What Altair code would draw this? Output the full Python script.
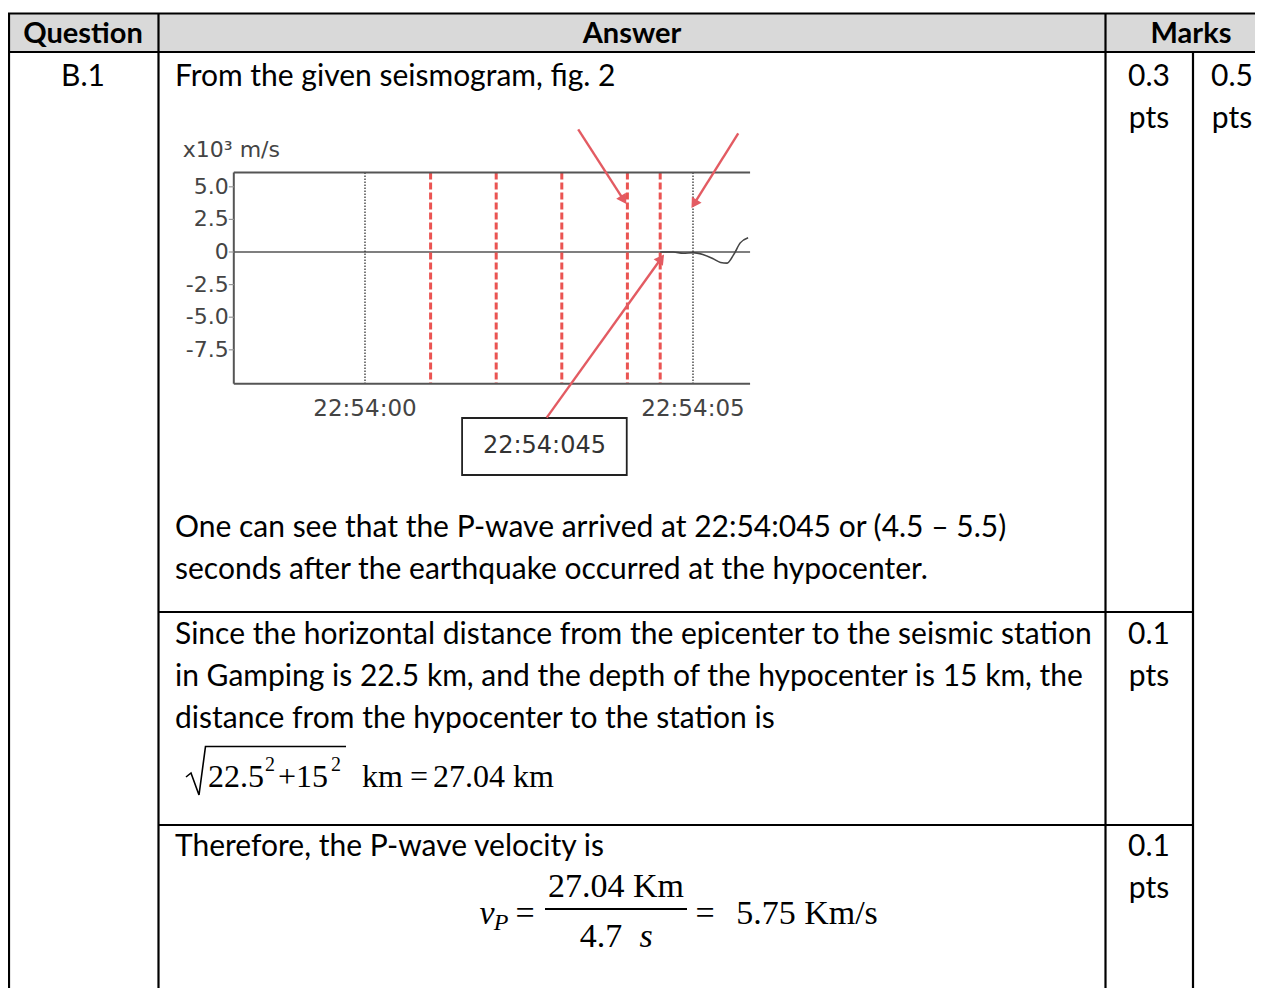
import math
import altair as alt
import pandas as pd

# ---------------- page geometry ----------------
W, H = 1247, 980          # whole chart (autosize none, padding 0), fits the 1263x1001 window with margins
ORIGIN_X, ORIGIN_Y = 8, 8  # page margin -> table coordinates are page pixels

# ---------------- table content ----------------
headers = ["Question", "Answer", "Marks"]
question_ids = ["B.1"]
answer_lines = [
    "From the given seismogram, fig. 2",
    "One can see that the P-wave arrived at 22:54:045 or (4.5 \u2013 5.5)",
    "seconds after the earthquake occurred at the hypocenter.",
    "Since the horizontal distance from the epicenter to the seismic station",
    "in Gamping is 22.5 km, and the depth of the hypocenter is 15 km, the",
    "distance from the hypocenter to the station is",
    "Therefore, the P-wave velocity is",
]
mark_values = ["0.3", "0.5", "0.1", "0.1"]
mark_unit = "pts"

formula1_parts = ["22.5", "2", "+15", "2", "km", "=", "27.04 km"]
formula2_roman = ["=", "27.04 Km", "4.7", "=", "5.75 Km/s"]
formula2_italic = ["v", "P", "s"]

# ---------------- seismogram content ----------------
y_ticks = [5.0, 2.5, 0.0, -2.5, -5.0, -7.5]
y_tick_labels = ["5.0", "2.5", "0", "-2.5", "-5.0", "-7.5"]
x_ticks = [0, 5]
x_tick_labels = ["22:54:00", "22:54:05"]
red_dashed_t = [1, 2, 3, 4, 4.5]
black_dotted_t = [0, 5]
wave_t = [4.5, 4.7, 4.85, 5.0, 5.15, 5.3, 5.42, 5.52, 5.62, 5.72, 5.84]
wave_v = [0.0, 0.0, -0.1, -0.05, -0.2, -0.5, -0.8, -0.85, -0.2, 0.7, 1.1]
arrow_start_t = [3.25, 5.69, 2.77]
arrow_start_v = [9.4, 9.1, -12.7]
arrow_end_t = [3.93, 5.03, 4.50]
arrow_end_v = [4.1, 3.8, -0.6]
annotation_label = "22:54:045"
unit_label = "x10\u00b3 m/s"

# ---------------- layout (page px) ----------------
X_LEFT, X_QA, X_AM, X_MM = 9, 158.5, 1105.5, 1193
Y_TOP, Y_HEAD, Y_ROW1, Y_ROW2 = 13.5, 52, 612, 825
FAR_RIGHT, FAR_BOTTOM = ORIGIN_X + W + 20, ORIGIN_Y + H + 20
TEXT_X = 175
LINE_H = 42
answer_baselines = [86, 537, 579, 644, 686, 728, 856]
header_pos = [(83, 43), (632, 43), (1191, 43)]
mark_pos = [(1149, 86), (1232, 86), (1149, 644), (1149, 856)]

# seismogram frame (time in s after 22:54:00, value in 10^3 m/s)
T_LEFT, T_RIGHT, V_TOP, V_BOT = -2.0, 5.87, 6.1, -10.1
T0_PX, PX_PER_S, V0_PY, PX_PER_V = 365, 65.6, 252, 13.04
BOX_T, BOX_V = (1.48, 3.99), (-12.73, -17.1)

BODY_FONT = "Lato"
BODY_SIZE = 30
SERIF = "Liberation Serif"
SEIS_FONT = "DejaVu Sans"
SEIS_GREY = "#444444"
ARROW_RED = "#e35b62"

# ---------------- scales ----------------
txs = alt.Scale(domain=[ORIGIN_X, ORIGIN_X + W], nice=False, zero=False)
tys = alt.Scale(domain=[ORIGIN_Y, ORIGIN_Y + H], nice=False, zero=False, reverse=True)
sxs = alt.Scale(domain=[(ORIGIN_X - T0_PX) / PX_PER_S, (ORIGIN_X + W - T0_PX) / PX_PER_S],
                nice=False, zero=False)
sys_ = alt.Scale(domain=[(V0_PY - ORIGIN_Y - H) / PX_PER_V, (V0_PY - ORIGIN_Y) / PX_PER_V],
                 nice=False, zero=False)


def TX(f="x"):
    return alt.X(f"{f}:Q", scale=txs, axis=None)


def TY(f="y"):
    return alt.Y(f"{f}:Q", scale=tys, axis=None)


def SX(f="t"):
    return alt.X(f"{f}:Q", scale=sxs, axis=None)


def SY(f="v"):
    return alt.Y(f"{f}:Q", scale=sys_, axis=None)


# ================= table layers =================
head_bg = alt.Chart(pd.DataFrame({"x": [ORIGIN_X], "x2": [FAR_RIGHT], "y": [Y_TOP], "y2": [Y_HEAD]})).mark_rect(
    color="#d9d9d9").encode(x=TX(), x2="x2:Q", y=TY(), y2="y2:Q")

lines_df = pd.DataFrame({
    "x":  [ORIGIN_X, ORIGIN_X, X_QA, X_QA, X_LEFT, X_QA, X_AM, X_MM],
    "x2": [FAR_RIGHT, FAR_RIGHT, X_MM, X_MM, X_LEFT, X_QA, X_AM, X_MM],
    "y":  [Y_TOP, Y_HEAD, Y_ROW1, Y_ROW2, Y_TOP, Y_TOP, Y_TOP, Y_HEAD],
    "y2": [Y_TOP, Y_HEAD, Y_ROW1, Y_ROW2, FAR_BOTTOM, FAR_BOTTOM, FAR_BOTTOM, FAR_BOTTOM],
})
table_lines = alt.Chart(lines_df).mark_rule(color="black", strokeWidth=2.2).encode(
    x=TX(), x2="x2:Q", y=TY(), y2="y2:Q")

head_df = pd.DataFrame({"text": headers, "x": [p[0] for p in header_pos], "y": [p[1] for p in header_pos]})
head_text = alt.Chart(head_df).mark_text(font=BODY_FONT, fontSize=29, fontWeight="bold", align="center",
                                         baseline="alphabetic", color="black").encode(
    x=TX(), y=TY(), text="text:N")

q_df = pd.DataFrame({"text": question_ids, "x": [83], "y": [86]})
q_text = alt.Chart(q_df).mark_text(font=BODY_FONT, fontSize=BODY_SIZE, align="center", baseline="alphabetic",
                                   color="black").encode(x=TX(), y=TY(), text="text:N")

ans_df = pd.DataFrame({"text": answer_lines, "x": [TEXT_X] * len(answer_lines), "y": answer_baselines})
ans_text = alt.Chart(ans_df).mark_text(font=BODY_FONT, fontSize=BODY_SIZE, align="left", baseline="alphabetic",
                                       color="black").encode(x=TX(), y=TY(), text="text:N")

mk_rows = []
for val, (mx, my) in zip(mark_values, mark_pos):
    mk_rows.append({"text": val, "x": mx, "y": my})
    mk_rows.append({"text": mark_unit, "x": mx, "y": my + LINE_H})
mk_text = alt.Chart(pd.DataFrame(mk_rows)).mark_text(font=BODY_FONT, fontSize=BODY_SIZE, align="center",
                                                      baseline="alphabetic", color="black").encode(
    x=TX(), y=TY(), text="text:N")

# formula 1: sqrt(22.5^2 + 15^2) km = 27.04 km
f1_x = [208, 265, 278, 331, 362, 410, 433]
f1_y = [787, 771, 787, 771, 787, 787, 787]
f1_fs = [32, 20, 32, 20, 32, 32, 32]
f1_df = pd.DataFrame({"text": formula1_parts, "x": f1_x, "y": f1_y, "fs": f1_fs})
f1_text = alt.Chart(f1_df).mark_text(font=SERIF, align="left", baseline="alphabetic", color="black").encode(
    x=TX(), y=TY(), text="text:N", size=alt.Size("fs:Q", scale=None, legend=None))
radical_df = pd.DataFrame({"x": [186, 191, 199, 205.5, 346], "y": [777, 773, 795, 746.5, 746.5],
                           "o": [0, 1, 2, 3, 4]})
radical = alt.Chart(radical_df).mark_line(color="black", strokeWidth=1.6).encode(
    x=TX(), y=TY(), order="o:Q")

# formula 2: v_P = 27.04 Km / 4.7 s = 5.75 Km/s
f2r_df = pd.DataFrame({"text": formula2_roman, "x": [525, 616, 601, 705, 807],
                       "y": [924, 897, 947, 924, 924]})
f2r_text = alt.Chart(f2r_df).mark_text(font=SERIF, fontSize=34, align="center", baseline="alphabetic",
                                       color="black").encode(x=TX(), y=TY(), text="text:N")
f2i_df = pd.DataFrame({"text": formula2_italic, "x": [487, 501, 646], "y": [924, 930, 947],
                       "fs": [34, 24, 34]})
f2i_text = alt.Chart(f2i_df).mark_text(font=SERIF, fontStyle="italic", align="center", baseline="alphabetic",
                                       color="black").encode(
    x=TX(), y=TY(), text="text:N", size=alt.Size("fs:Q", scale=None, legend=None))
frac_bar = alt.Chart(pd.DataFrame({"x": [545], "x2": [687], "y": [909]})).mark_rule(
    color="black", strokeWidth=2.2).encode(x=TX(), x2="x2:Q", y=TY())

table = alt.layer(head_bg, table_lines, head_text, q_text, ans_text, mk_text,
                  f1_text, radical, f2r_text, f2i_text, frac_bar)

# ================= seismogram layers =================
frame_df = pd.DataFrame({
    "t": [T_LEFT, T_LEFT, T_LEFT], "t2": [T_LEFT, T_RIGHT, T_RIGHT],
    "v": [V_TOP, V_TOP, V_BOT], "v2": [V_BOT, V_TOP, V_BOT]})
frame = alt.Chart(frame_df).mark_rule(color="#555555", strokeWidth=2).encode(
    x=SX(), x2="t2:Q", y=SY(), y2="v2:Q")
zero_line = alt.Chart(pd.DataFrame({"t": [T_LEFT], "t2": [T_RIGHT], "v": [0.0]})).mark_rule(
    color="#555555", strokeWidth=1.5).encode(x=SX(), x2="t2:Q", y=SY())

ytick_df = pd.DataFrame({"v": y_ticks, "label": y_tick_labels, "t": [T_LEFT] * len(y_ticks),
                         "t0": [T_LEFT - 5 / PX_PER_S] * len(y_ticks)})
ytick_marks = alt.Chart(ytick_df).mark_rule(color="#999999", strokeWidth=1.2).encode(
    x=SX("t0"), x2="t:Q", y=SY())
ytick_text = alt.Chart(ytick_df).mark_text(font=SEIS_FONT, fontSize=22, align="right", baseline="middle",
                                           dx=-5, color=SEIS_GREY).encode(x=SX(), y=SY(), text="label:N")
xtick_df = pd.DataFrame({"t": x_ticks, "label": x_tick_labels, "v": [V_BOT] * len(x_ticks)})
xtick_text = alt.Chart(xtick_df).mark_text(font=SEIS_FONT, fontSize=23, align="center", baseline="alphabetic",
                                           dy=32, color=SEIS_GREY).encode(x=SX(), y=SY(), text="label:N")
unit_text = alt.Chart(pd.DataFrame({"t": [T_LEFT], "v": [V_TOP], "label": [unit_label]})).mark_text(
    font=SEIS_FONT, fontSize=22, align="left", baseline="alphabetic", dx=-51, dy=-15,
    color=SEIS_GREY).encode(x=SX(), y=SY(), text="label:N")

red_df = pd.DataFrame({"t": red_dashed_t, "v": [V_TOP] * len(red_dashed_t), "v2": [V_BOT] * len(red_dashed_t)})
red_lines = alt.Chart(red_df).mark_rule(color="#e8413f", strokeWidth=3, strokeDash=[7, 3], opacity=0.9).encode(
    x=SX(), y=SY(), y2="v2:Q")
dot_df = pd.DataFrame({"t": black_dotted_t, "v": [V_TOP] * 2, "v2": [V_BOT] * 2})
dot_lines = alt.Chart(dot_df).mark_rule(color="#333333", strokeWidth=1.3, strokeDash=[1.5, 1.5]).encode(
    x=SX(), y=SY(), y2="v2:Q")

wave = alt.Chart(pd.DataFrame({"t": wave_t, "v": wave_v})).mark_line(
    color="#444444", strokeWidth=1.6, interpolate="monotone").encode(x=SX(), y=SY())

angles = []
for ts, vs, te, ve in zip(arrow_start_t, arrow_start_v, arrow_end_t, arrow_end_v):
    dx = (te - ts) * PX_PER_S
    dy = -(ve - vs) * PX_PER_V
    angles.append(math.degrees(math.atan2(dx, -dy)) % 360)
arrow_df = pd.DataFrame({"t": arrow_start_t, "v": arrow_start_v, "t2": arrow_end_t, "v2": arrow_end_v,
                         "angle": angles})
arrow_lines = alt.Chart(arrow_df).mark_rule(color=ARROW_RED, strokeWidth=2.4).encode(
    x=SX(), y=SY(), x2="t2:Q", y2="v2:Q")
arrow_heads = alt.Chart(arrow_df).mark_point(shape="triangle", filled=True, size=130, color=ARROW_RED,
                                             opacity=1).encode(
    x=SX("t2"), y=SY("v2"), angle=alt.Angle("angle:Q", scale=None))

box = alt.Chart(pd.DataFrame({"t": [BOX_T[0]], "t2": [BOX_T[1]], "v": [BOX_V[0]], "v2": [BOX_V[1]]})).mark_rect(
    fill="white", stroke="#222222", strokeWidth=1.8).encode(x=SX(), x2="t2:Q", y=SY(), y2="v2:Q")
box_text = alt.Chart(pd.DataFrame({"t": [sum(BOX_T) / 2], "v": [sum(BOX_V) / 2], "label": [annotation_label]})
                     ).mark_text(font=SEIS_FONT, fontSize=24, align="center", baseline="middle",
                                 color="#333333").encode(x=SX(), y=SY(), text="label:N")

seis = alt.layer(zero_line, red_lines, dot_lines, frame, ytick_marks, ytick_text, xtick_text, unit_text,
                 wave, box, box_text, arrow_lines, arrow_heads)

chart = alt.layer(table, seis).resolve_scale(x="independent", y="independent").properties(
    width=W, height=H, padding=0, autosize=alt.AutoSizeParams(type="none"),
    background="white").configure_view(stroke=None)

chart.save("out.html", embed_options={"renderer": "svg", "actions": False})
